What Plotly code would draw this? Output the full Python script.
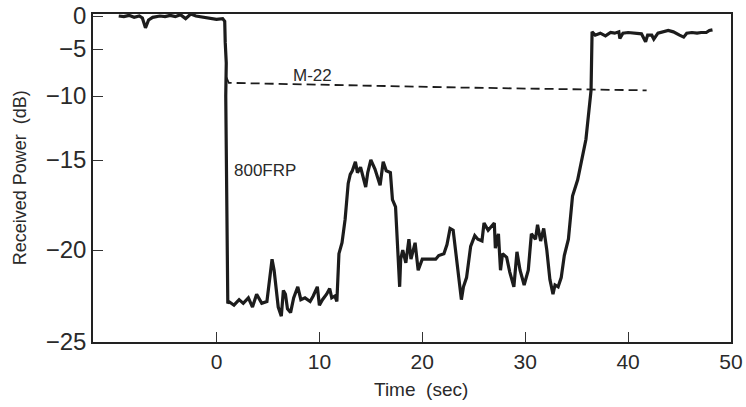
import numpy as np
import plotly.graph_objects as go

# ---- data (dB values) ----
t_frp = [-9.5, -9.0, -8.5, -8.0, -7.5, -7.2, -6.9, -6.6, -6.2, -5.5, -5.0, -4.5, -4.0, -3.5,
         -3.0, -2.5, -2.0, -1.5, -1.0, -0.5, 0.0, 0.6, 0.8, 0.85, 0.95, 0.9, 0.95, 1.0, 1.1,
         1.2, 1.7, 2.2, 2.6, 3.1, 3.5, 3.9, 4.4, 4.9, 5.2, 5.4, 5.6, 5.8, 6.0, 6.3, 6.5, 6.7,
         6.9, 7.2, 7.5, 7.9, 8.2, 8.6, 9.1, 9.4, 9.8, 10.0, 10.3, 10.7, 11.0, 11.2, 11.5, 11.7,
         11.9, 12.2, 12.5, 12.8, 13.0, 13.2, 13.5, 13.7, 14.0, 14.5, 14.7, 15.0, 15.4, 15.9,
         16.2, 16.5, 16.9, 17.1, 17.4, 17.5, 17.7, 17.8, 17.9, 18.1, 18.4, 18.7, 18.9, 19.3,
         19.6, 20.0, 20.8, 21.3, 21.6, 22.1, 22.4, 22.7, 23.0, 23.3, 23.5, 23.8, 24.0, 24.3,
         24.7, 25.1, 25.4, 25.8, 26.0, 26.4, 27.0, 27.1, 27.4, 27.6, 27.8, 28.2, 28.5, 28.9,
         29.2, 29.5, 29.9, 30.3, 30.6, 31.0, 31.2, 31.5, 31.8, 32.1, 32.4, 32.7, 32.9, 33.2,
         33.5, 33.8, 34.2, 34.6, 35.1, 35.9, 36.4, 36.5, 36.5, 36.8, 37.3, 37.8, 38.3, 38.7,
         39.1, 39.2, 39.5, 40.0, 40.8, 41.3, 41.7, 41.9, 42.3, 42.5, 42.9, 43.4, 43.9, 44.4,
         44.7, 45.0, 45.4, 45.7, 46.2, 46.7, 47.1, 47.6, 47.9, 48.2]
db_frp = [0.0, -0.1, 0.1, -0.2, 0.0, -0.3, -1.8, -0.6, -0.2, 0.0, -0.1, 0.1, -0.1, 0.2,
          -0.4, 0.3, 0.0, -0.1, -0.2, -0.3, -0.5, -0.4, -0.8, -4.0, -6.5, -10.0, -15.0, -20.0, -22.9,
          -22.8, -23.0, -22.7, -22.9, -22.6, -23.1, -22.4, -22.9, -22.8, -21.6, -20.5, -21.1, -22.3,
          -23.1, -23.6, -22.2, -22.4, -23.2, -23.4, -22.6, -22.0, -22.7, -22.6, -22.8, -22.5, -22.0,
          -23.0, -22.7, -22.4, -22.1, -22.6, -22.5, -22.8, -20.2, -19.6, -18.3, -16.3, -15.8, -15.6,
          -15.1, -15.7, -15.4, -16.5, -15.7, -15.0, -15.5, -16.4, -15.1, -15.6, -15.7, -17.2, -17.6,
          -18.7, -20.9, -22.0, -20.5, -20.0, -20.7, -19.4, -20.5, -19.6, -21.1, -20.5, -20.5, -20.5,
          -20.3, -20.2, -19.7, -18.8, -18.9, -20.3, -21.1, -22.7, -22.0, -21.5, -19.8, -19.2, -19.4,
          -19.5, -18.5, -18.9, -18.5, -19.9, -19.1, -21.1, -20.2, -20.4, -21.2, -22.0, -20.1, -21.1,
          -21.9, -21.1, -19.1, -19.4, -18.6, -19.5, -18.8, -20.0, -21.6, -22.4, -21.9, -22.0, -21.5,
          -20.3, -19.4, -17.0, -16.1, -13.4, -9.4, -5.8, -2.4, -2.9, -2.6, -3.0, -2.5, -2.6, -2.4,
          -3.4, -2.6, -2.5, -2.6, -2.7, -3.9, -2.9, -2.9, -3.5, -2.6, -2.4, -2.2, -2.4, -2.6, -2.9,
          -3.2, -2.6, -2.5, -2.6, -2.5, -2.5, -2.2, -2.1]

t_m22 = [0.95, 1.2, 23.7, 41.8]
db_m22 = [-8.0, -8.6, -9.1, -9.4]

y_tick_db = [-25, -20, -15, -10, -5, 0]
y_tick_text = ["\u221225", "\u221220", "\u221215", "\u221210", "\u22125", "0"]
x_tick_vals = [0, 10, 20, 30, 40, 50]

# The printed y axis is not evenly spaced; positions of the printed ticks (axis units)
axis_knots_db = [-25, -20, -15, -10, -5, 0, 5]
axis_knots_pos = [0, 92, 182, 246, 293, 326, 359]


def to_axis(v):
    return np.interp(np.asarray(v, dtype=float), axis_knots_db, axis_knots_pos)


line_col = "#1c1c1c"
txt_col = "#2a2a2a"
fig = go.Figure()
fig.add_trace(go.Scatter(x=t_m22, y=to_axis(db_m22), mode="lines",
                         line=dict(color=line_col, width=1.8, dash="9px,5px"),
                         showlegend=False, hoverinfo="skip"))
fig.add_trace(go.Scatter(x=t_frp, y=to_axis(db_frp), mode="lines",
                         line=dict(color=line_col, width=3.2),
                         showlegend=False, hoverinfo="skip"))

fig.add_annotation(x=9.3, y=float(to_axis(-7.8)), text="M-22", showarrow=False,
                   font=dict(size=17, color=txt_col), xanchor="center", yanchor="middle")
fig.add_annotation(x=4.7, y=float(to_axis(-15.6)), text="800FRP", showarrow=False,
                   font=dict(size=17, color=txt_col), xanchor="center", yanchor="middle")

fig.add_annotation(xref="paper", yref="paper", x=-0.114, y=0.50, text="Received Power  (dB)",
                   textangle=-90, showarrow=False, font=dict(size=18, color=txt_col),
                   xanchor="center", yanchor="middle")
fig.add_annotation(xref="paper", yref="paper", x=0.514, y=-0.145, text="Time  (sec)",
                   showarrow=False, font=dict(size=19, color=txt_col),
                   xanchor="center", yanchor="middle")

fig.update_layout(
    width=746, height=407,
    margin=dict(l=93, r=15, t=14, b=65, autoexpand=False),
    paper_bgcolor="white", plot_bgcolor="white",
    font=dict(family="Liberation Sans, Arial, sans-serif", color=txt_col),
)
fig.update_xaxes(range=[-12, 50], tickvals=x_tick_vals, ticks="inside", ticklen=10,
                 tickcolor="#333", tickwidth=1.2, showgrid=False, zeroline=False,
                 showline=True, linecolor="#222", linewidth=1.6, mirror=True,
                 automargin=False, tickfont=dict(size=21, color=txt_col))
fig.update_yaxes(range=[0, 328], tickvals=list(to_axis(y_tick_db)), ticktext=y_tick_text,
                 ticks="inside", ticklen=10, tickcolor="#333", tickwidth=1.2,
                 showgrid=False, zeroline=False, showline=True, linecolor="#222",
                 linewidth=1.6, mirror=True, automargin=False,
                 tickfont=dict(size=24, color=txt_col))

fig.write_html("out.html", config={"displayModeBar": False},
               post_script="document.body.style.margin='0';document.body.style.padding='0';")
